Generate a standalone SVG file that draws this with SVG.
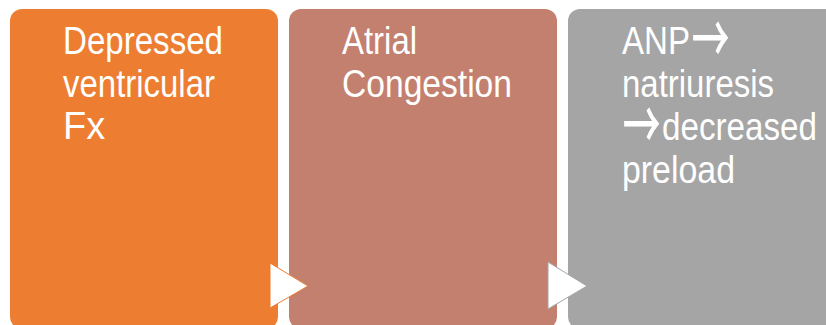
<svg xmlns="http://www.w3.org/2000/svg" width="826" height="325" viewBox="0 0 826 325">
<style>
.t{font-family:"Liberation Sans",Arial,sans-serif;font-size:38px;fill:#fff}
.ar{font-family:"Noto Sans CJK JP","DejaVu Sans",sans-serif;font-size:66px;fill:#fff;stroke:#fff;stroke-width:1}
</style>
<rect width="826" height="325" fill="#fff"/>
<g id="node1">
<rect x="10" y="9" width="268" height="320" rx="12" fill="#ED7D31"/>
<text class="t"><tspan x="63" y="54" textLength="160" lengthAdjust="spacingAndGlyphs">Depressed</tspan><tspan x="63" y="97" textLength="152" lengthAdjust="spacingAndGlyphs">ventricular</tspan><tspan x="63" y="139">Fx</tspan></text>
</g>
<g id="node2">
<rect x="289" y="9" width="268" height="320" rx="12" fill="#C4806F"/>
<text class="t"><tspan x="342" y="54" textLength="75" lengthAdjust="spacingAndGlyphs">Atrial</tspan><tspan x="342" y="97" textLength="170" lengthAdjust="spacingAndGlyphs">Congestion</tspan></text>
</g>
<g id="node3">
<rect x="568" y="9" width="280" height="320" rx="12" fill="#A5A5A5"/>
<text class="t"><tspan x="622" y="54" textLength="68" lengthAdjust="spacingAndGlyphs">ANP</tspan><tspan x="622" y="97" textLength="152" lengthAdjust="spacingAndGlyphs">natriuresis</tspan><tspan x="662" y="140" textLength="155" lengthAdjust="spacingAndGlyphs">decreased</tspan><tspan x="622" y="183" textLength="113" lengthAdjust="spacingAndGlyphs">preload</tspan></text>
<text class="ar" x="692" y="63" textLength="37" lengthAdjust="spacingAndGlyphs">→</text>
<text class="ar" x="623" y="149" textLength="37" lengthAdjust="spacingAndGlyphs">→</text>
</g>
<g id="connectors">
<polygon points="270,263 308,286 270,308" fill="#fff" stroke="#ED7D31" stroke-width="1"/>
<polygon points="548,262 587,286 548,309" fill="#fff" stroke="#A5A5A5" stroke-width="1"/>
</g>
</svg>
